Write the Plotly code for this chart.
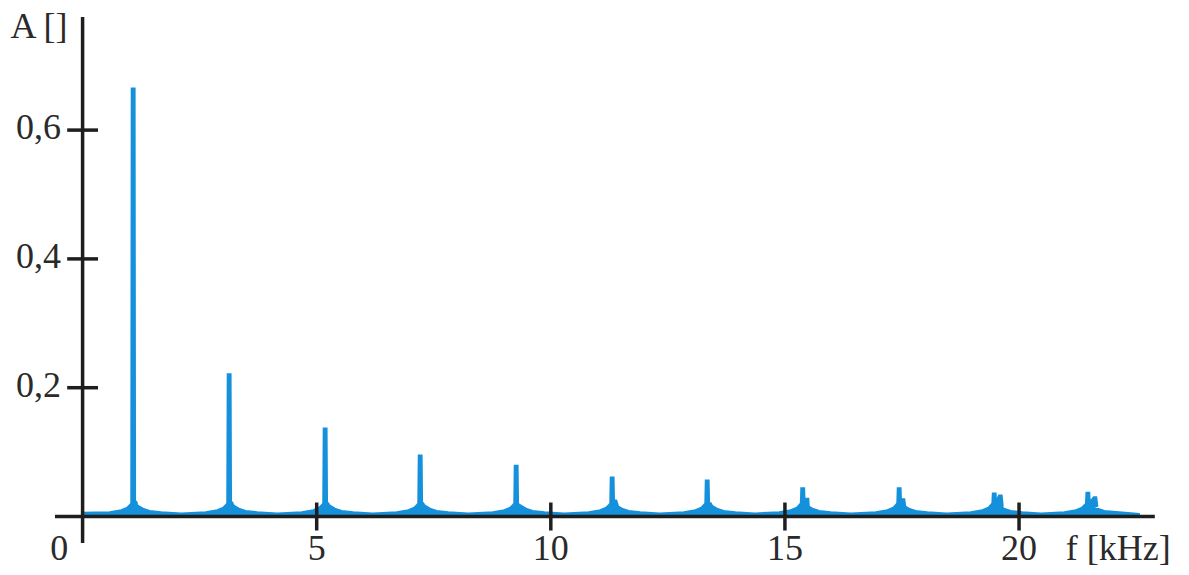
import plotly.graph_objects as go

# ---- data ----
peak_freq = [1.08, 3.13, 5.18, 7.21, 9.26, 11.31, 13.34, 15.38, 17.44, 19.47, 21.47]
peak_amp = [0.664, 0.220, 0.136, 0.094, 0.078, 0.060, 0.055, 0.043, 0.043, 0.035, 0.036]
shoulder_freq = [1.12, 3.17, 5.22, 7.25, 9.30, 11.37, 13.39, 15.47, 17.52, 19.60, 21.62]
shoulder_amp = [0.022, 0.021, 0.020, 0.020, 0.018, 0.024, 0.020, 0.027, 0.026, 0.032, 0.029]
skirt_offset = [-0.5, -0.25, -0.12, -0.05, 0.12, 0.22, 0.35, 0.6]
skirt_amp = [0.006, 0.009, 0.013, 0.018, 0.015, 0.011, 0.008, 0.006]
floor_amp = 0.004
spectrum_start = 0.0
spectrum_end = 22.58

y_tick_vals = [0.2, 0.4, 0.6]
y_tick_text = ["0,2", "0,4", "0,6"]
x_tick_vals = [5, 10, 15, 20]
x_tick_text = ["5", "10", "15", "20"]

# ---- build the spectrum outline from the read values ----
fs, amps = [spectrum_start], [0.005]
for i, (pf, pa) in enumerate(zip(peak_freq, peak_amp)):
    for off, a in zip(skirt_offset, skirt_amp):
        if off < 0:
            fs.append(pf + off); amps.append(a)
    fs += [pf - 0.03, pf - 0.02, pf + 0.02, pf + 0.03]
    amps += [0.02, pa, pa, 0.02]
    sf, sa = shoulder_freq[i], shoulder_amp[i]
    fs += [sf - 0.02, sf + 0.02, sf + 0.04]
    amps += [sa, sa, 0.017]
    for off, a in zip(skirt_offset, skirt_amp):
        if off > 0:
            fs.append(pf + off); amps.append(a)
    if i + 1 < len(peak_freq):
        fs.append((pf + peak_freq[i + 1]) / 2); amps.append(floor_amp)
fs.append(spectrum_end); amps.append(0.003)

BLUE = "#1591dc"
INK = "#1e1e1e"
FONT = dict(family="'Liberation Serif', 'Times New Roman', serif", size=36, color="#2a2a2a")

fig = go.Figure()
fig.add_trace(go.Scatter(x=fs, y=amps, mode="lines", fill="tozeroy",
                         fillcolor=BLUE, line=dict(color=BLUE, width=3),
                         hoverinfo="skip", showlegend=False))

# axes (crossing lines)
fig.add_trace(go.Scatter(x=[-0.59, 22.90], y=[0, 0], mode="lines",
                         line=dict(color=INK, width=3.5), showlegend=False, hoverinfo="skip"))
fig.add_trace(go.Scatter(x=[0, 0], y=[-0.041, 0.7756], mode="lines",
                         line=dict(color=INK, width=3.5), showlegend=False, hoverinfo="skip"))

# ticks
fig.add_trace(go.Scatter(x=x_tick_vals, y=[0] * len(x_tick_vals), mode="markers",
                         marker=dict(symbol="line-ns-open", size=20, color=INK,
                                     line=dict(color=INK, width=3.5)),
                         showlegend=False, hoverinfo="skip"))
fig.add_trace(go.Scatter(x=[0] * len(y_tick_vals), y=y_tick_vals, mode="markers",
                         marker=dict(symbol="line-ew-open", size=22, color=INK,
                                     line=dict(color=INK, width=3.5)),
                         showlegend=False, hoverinfo="skip"))

# tick labels
fig.add_trace(go.Scatter(x=[-0.46] * len(y_tick_vals), y=y_tick_vals, mode="text",
                         text=y_tick_text, textposition="middle left",
                         textfont=FONT, showlegend=False, hoverinfo="skip"))
fig.add_trace(go.Scatter(x=x_tick_vals + [-0.5], y=[-0.054] * (len(x_tick_vals) + 1), mode="text",
                         text=x_tick_text + ["0"], textposition="middle center",
                         textfont=FONT, showlegend=False, hoverinfo="skip"))

# axis titles
fig.add_trace(go.Scatter(x=[-1.54], y=[0.757], mode="text", text=["A []"],
                         textposition="middle right", textfont=FONT,
                         showlegend=False, hoverinfo="skip"))
fig.add_trace(go.Scatter(x=[21.0], y=[-0.054], mode="text", text=["f [kHz]"],
                         textposition="middle right", textfont=FONT,
                         showlegend=False, hoverinfo="skip"))

fig.update_layout(
    width=1189, height=575,
    margin=dict(l=0, r=0, t=0, b=0),
    paper_bgcolor="white", plot_bgcolor="white",
    xaxis=dict(range=[-1.764, 23.63], visible=False, fixedrange=True),
    yaxis=dict(range=[-0.0908, 0.802], visible=False, fixedrange=True),
)

fig.write_html("out.html")
